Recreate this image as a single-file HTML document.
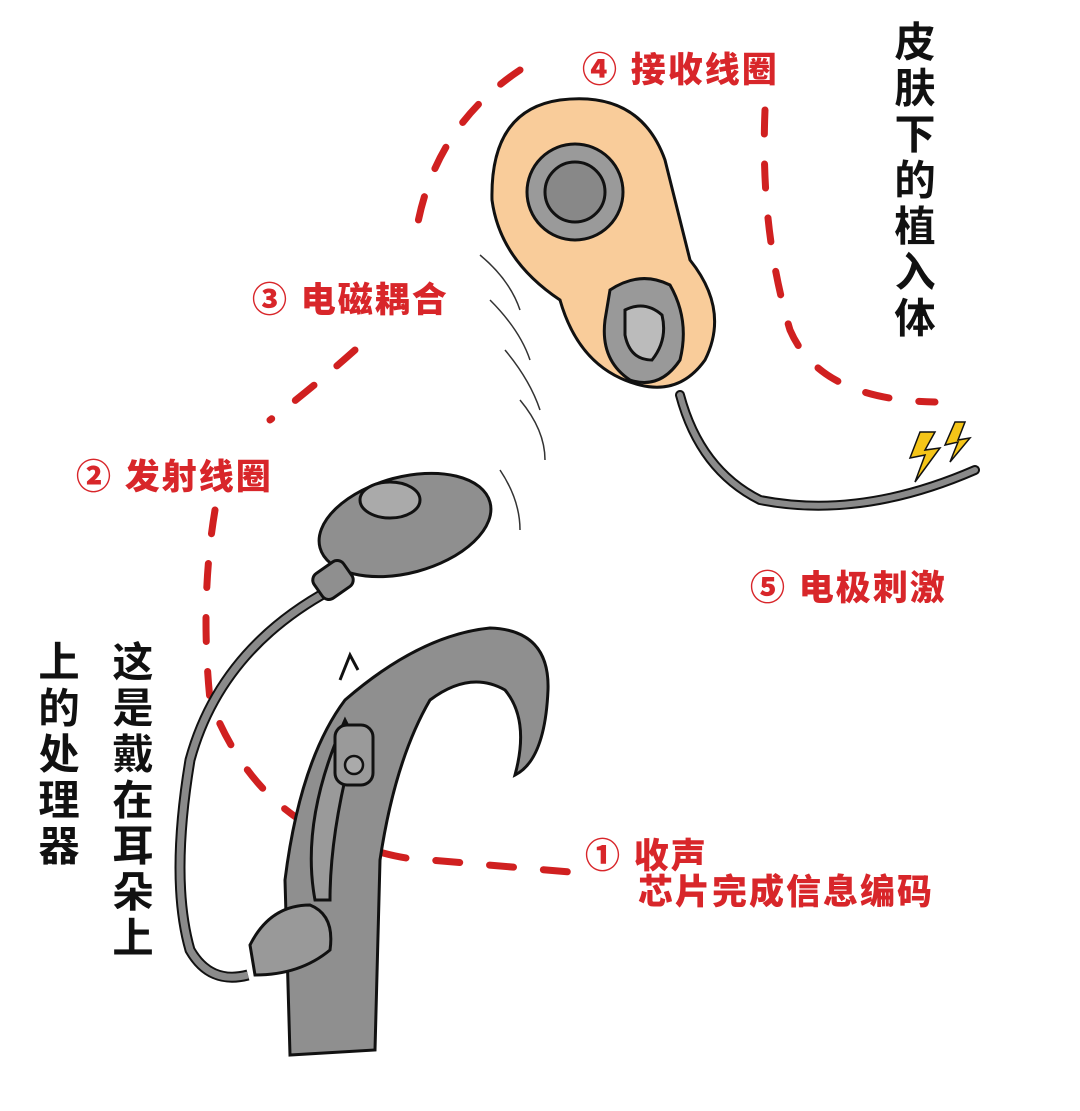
<!DOCTYPE html>
<html><head><meta charset="utf-8"><style>
html,body{margin:0;padding:0;background:#fff;}
svg{display:block}
.r{font-family:"Liberation Sans","Noto Sans CJK SC",sans-serif;font-weight:900;fill:#d8262a;font-size:35px;letter-spacing:2px}
.v{font-family:"Liberation Sans","Noto Sans CJK SC",sans-serif;font-weight:900;fill:#111;font-size:42px;writing-mode:tb;stroke:#fff;stroke-width:1}
</style></head><body>
<svg width="1080" height="1111" viewBox="0 0 1080 1111" xmlns="http://www.w3.org/2000/svg">
<rect width="1080" height="1111" fill="#fff"/>
<g fill="none" stroke="#d02020" stroke-width="7" stroke-linecap="round" stroke-dasharray="24 30">
<path d="M520 70 Q430 130 415 240"/>
<path d="M355 350 Q310 390 270 420"/>
<path d="M215 510 Q200 600 210 700 Q240 780 300 820 Q380 860 430 860 L570 872"/>
<path d="M765 110 Q760 230 790 330 Q820 400 935 402"/>
</g>
<path d="M560 100 Q640 90 665 160 Q680 220 690 260 Q730 310 705 360 Q680 395 640 385 Q580 370 560 300 Q500 260 492 200 Q490 110 560 100Z" fill="#f9cc9a" stroke="#111" stroke-width="3"/>
<circle cx="575" cy="192" r="48" fill="#9a9a9a" stroke="#111" stroke-width="3"/>
<circle cx="575" cy="192" r="30" fill="#888" stroke="#111" stroke-width="3"/>
<path d="M610 290 Q640 270 670 285 Q690 320 680 360 Q660 390 630 380 Q600 360 605 320Z" fill="#999" stroke="#111" stroke-width="3"/>
<path d="M625 310 Q645 300 662 315 Q668 340 652 360 Q630 360 625 335Z" fill="#bbb" stroke="#111" stroke-width="3"/>
<path d="M680 395 Q700 470 760 500 Q860 520 975 470" fill="none" stroke="#111" stroke-width="10" stroke-linecap="round"/>
<path d="M680 395 Q700 470 760 500 Q860 520 975 470" fill="none" stroke="#8a8a8a" stroke-width="6" stroke-linecap="round"/>
<path d="M920 432 L910 458 L925 455 L915 482 L940 448 L925 450 L935 432Z M955 422 L945 445 L958 442 L950 462 L970 438 L958 440 L965 422Z" fill="#f5c518" stroke="#111" stroke-width="1.5"/>
<g fill="none" stroke="#333" stroke-width="1.5">
<path d="M480 255 Q510 280 520 310"/><path d="M490 300 Q520 330 530 360"/><path d="M505 350 Q530 380 540 410"/><path d="M520 400 Q545 430 545 460"/><path d="M500 470 Q520 500 520 530"/>
</g>
<path d="M330 590 Q220 650 190 760 Q170 880 190 950 Q210 985 248 975" fill="none" stroke="#111" stroke-width="11"/>
<path d="M330 590 Q220 650 190 760 Q170 880 190 950 Q210 985 248 975" fill="none" stroke="#8a8a8a" stroke-width="7"/>
<ellipse cx="405" cy="525" rx="88" ry="48" transform="rotate(-15 405 525)" fill="#8f8f8f" stroke="#111" stroke-width="3"/>
<ellipse cx="390" cy="500" rx="30" ry="18" fill="#aaa" stroke="#111" stroke-width="3"/>
<rect x="315" y="565" width="36" height="30" rx="8" transform="rotate(-35 333 580)" fill="#8f8f8f" stroke="#111" stroke-width="3"/>
<path d="M290 1055 L285 880 Q300 760 345 700 Q420 635 490 628 Q550 630 548 690 Q545 760 515 775 Q530 720 505 690 Q470 670 430 700 Q395 760 380 860 L375 1050Z" fill="#8f8f8f" stroke="#111" stroke-width="3"/>
<path d="M340 680 L350 655 L358 670" fill="none" stroke="#111" stroke-width="3"/>
<path d="M315 900 Q300 820 345 720 L355 740 Q330 830 330 900Z" fill="#9a9a9a" stroke="#111" stroke-width="3"/>
<rect x="335" y="725" width="38" height="60" rx="12" fill="#9a9a9a" stroke="#111" stroke-width="3"/>
<circle cx="354" cy="765" r="9" fill="#aaa" stroke="#111" stroke-width="2.5"/>
<path d="M250 945 Q270 905 310 905 Q335 915 330 950 Q300 975 255 975Z" fill="#999" stroke="#111" stroke-width="3"/>
<text class="r" x="582" y="82">④ 接收线圈</text>
<text class="r" x="252" y="312">③ 电磁耦合</text>
<text class="r" x="76" y="489">② 发射线圈</text>
<text class="r" x="750" y="600">⑤ 电极刺激</text>
<text class="r" x="585" y="868">① 收声</text>
<text class="r" x="638" y="904">芯片完成信息编码</text>
<text class="v" x="912" y="20" letter-spacing="4">皮肤下的植入体</text>
<text class="v" x="130" y="640" letter-spacing="4">这是戴在耳朵上</text>
<text class="v" x="56" y="640" letter-spacing="4">上的处理器</text>
</svg>
</body></html>
